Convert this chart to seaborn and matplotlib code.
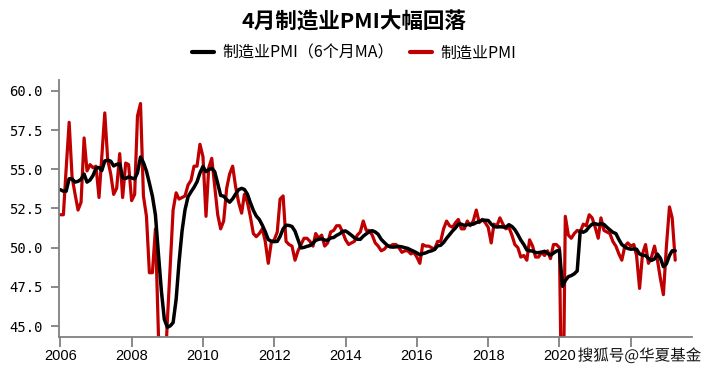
import matplotlib
matplotlib.use("Agg")
import matplotlib.pyplot as plt
import matplotlib.dates as mdates
import matplotlib.patheffects as pe
from matplotlib.lines import Line2D
import pandas as pd
import seaborn as sns

# monthly manufacturing PMI, Aug 2005 .. Apr 2023 (2005 values only feed the 6-month MA)
pmi_2005 = [52.7, 55.0, 53.2, 54.6, 54.6]
pmi_2006 = [52.1, 52.1, 55.0, 58.0, 54.5, 53.4, 52.4, 52.9, 57.0, 54.9, 55.3, 55.1]
pmi_2007 = [55.2, 53.2, 55.8, 58.6, 55.6, 54.7, 53.4, 53.8, 56.0, 53.2, 55.4, 55.3]
pmi_2008 = [53.0, 53.4, 58.4, 59.2, 53.3, 52.0, 48.4, 48.4, 51.2, 44.6, 38.8, 41.2]
pmi_2009 = [45.3, 49.0, 52.4, 53.5, 53.1, 53.2, 53.3, 54.0, 54.3, 55.2, 55.2, 56.6]
pmi_2010 = [55.8, 52.0, 55.1, 55.7, 53.9, 52.1, 51.2, 51.7, 53.8, 54.7, 55.2, 53.9]
pmi_2011 = [52.9, 52.2, 53.4, 52.9, 52.0, 50.9, 50.7, 50.9, 51.2, 50.4, 49.0, 50.3]
pmi_2012 = [50.5, 51.0, 53.1, 53.3, 50.4, 50.2, 50.1, 49.2, 49.8, 50.2, 50.6, 50.6]
pmi_2013 = [50.4, 50.1, 50.9, 50.6, 50.8, 50.1, 50.3, 51.0, 51.1, 51.4, 51.4, 51.0]
pmi_2014 = [50.5, 50.2, 50.3, 50.4, 50.8, 51.0, 51.7, 51.1, 51.1, 50.8, 50.3, 50.1]
pmi_2015 = [49.8, 49.9, 50.1, 50.1, 50.2, 50.2, 50.0, 49.7, 49.8, 49.8, 49.6, 49.7]
pmi_2016 = [49.4, 49.0, 50.2, 50.1, 50.1, 50.0, 49.9, 50.4, 50.4, 51.2, 51.7, 51.4]
pmi_2017 = [51.3, 51.6, 51.8, 51.2, 51.2, 51.7, 51.4, 51.7, 52.4, 51.6, 51.8, 51.6]
pmi_2018 = [51.3, 50.3, 51.5, 51.4, 51.9, 51.5, 51.2, 51.3, 50.8, 50.2, 50.0, 49.4]
pmi_2019 = [49.5, 49.2, 50.5, 50.1, 49.4, 49.4, 49.7, 49.5, 49.8, 49.3, 50.2, 50.2]
pmi_2020 = [50.0, 35.7, 52.0, 50.8, 50.6, 50.9, 51.1, 51.0, 51.5, 51.4, 52.1, 51.9]
pmi_2021 = [51.3, 50.6, 51.9, 51.1, 51.0, 50.9, 50.4, 50.1, 49.6, 49.2, 50.1, 50.3]
pmi_2022 = [50.1, 50.2, 49.5, 47.4, 49.6, 50.2, 49.0, 49.4, 50.1, 49.2, 48.0, 47.0]
pmi_2023 = [50.1, 52.6, 51.9, 49.2]

pmi = (pmi_2005 + pmi_2006 + pmi_2007 + pmi_2008 + pmi_2009 + pmi_2010 + pmi_2011
       + pmi_2012 + pmi_2013 + pmi_2014 + pmi_2015 + pmi_2016 + pmi_2017 + pmi_2018
       + pmi_2019 + pmi_2020 + pmi_2021 + pmi_2022 + pmi_2023)

y_ticks = [45, 47.5, 50, 52.5, 55, 57.5, 60]
label_ma = "制造业PMI（6个月MA）"
label_pmi = "制造业PMI"
red = "#C00000"

df = pd.DataFrame({"date": pd.date_range("2005-08-01", periods=len(pmi), freq="MS"),
                   "pmi": pmi})
df["ma6"] = df["pmi"].rolling(6).mean()
df = df[df["date"] >= "2006-01-01"]

sns.set_theme(style="white")
plt.rcParams["font.family"] = ["Noto Sans CJK SC", "DejaVu Sans"]
plt.rcParams["text.color"] = "black"
plt.rcParams["xtick.labelcolor"] = "black"
plt.rcParams["ytick.labelcolor"] = "black"

fig = plt.figure(figsize=(7.08, 3.78), dpi=100)
ax = fig.add_axes([59 / 708, 1 - 336.5 / 378, (692 - 59) / 708, (336.5 - 80) / 378])

sns.lineplot(data=df, x="date", y="pmi", color=red, linewidth=2.3, ax=ax)
sns.lineplot(data=df, x="date", y="ma6", color="black", linewidth=2.5, ax=ax)

ax.set_xlim(pd.Timestamp("2005-12-18"), pd.Timestamp("2023-09-20"))
ax.set_ylim(44.33, 60.7)
ax.set_yticks(y_ticks)
ax.set_yticklabels([f"{v:.1f}" for v in y_ticks], family="DejaVu Sans Mono", fontsize=10)
ax.xaxis.set_major_locator(mdates.YearLocator(2))
ax.xaxis.set_major_formatter(mdates.DateFormatter("%Y"))
fig.canvas.draw()
for t in ax.get_xticklabels():
    t.set_family("Liberation Sans")
    t.set_fontsize(10.5)
    if t.get_text() == "2022":
        t.set_visible(False)  # hidden under the watermark in the original
ax.set_xlabel("")
ax.set_ylabel("")

sns.despine(ax=ax)
for s in ["left", "bottom"]:
    ax.spines[s].set_color("#808080")
    ax.spines[s].set_linewidth(1.3)
ax.tick_params(axis="x", direction="out", length=7, width=1.3, color="#808080", pad=2, bottom=True)
ax.tick_params(axis="y", direction="out", length=5.5, width=1.3, color="#808080", pad=6, left=True)

fig.text(0.5, 1 - 22 / 378, "4月制造业PMI大幅回落", ha="center", va="center",
         fontsize=15.5, fontweight="bold", color="black")

handles = [Line2D([], [], color="black", linewidth=3),
           Line2D([], [], color=red, linewidth=3)]
fig.legend(handles, [label_ma, label_pmi], loc="center", bbox_to_anchor=(0.5, 1 - 53 / 378),
           ncol=2, frameon=False, fontsize=11.5, handlelength=1.4, handletextpad=0.5,
           columnspacing=1.0)

fig.text(0.99, 1 - 356 / 378, "搜狐号@华夏基金", ha="right", va="center", fontsize=11.2,
         color="#111111", path_effects=[pe.withStroke(linewidth=3, foreground="white")])

fig.savefig("out.png", dpi=100)
plt.close(fig)
